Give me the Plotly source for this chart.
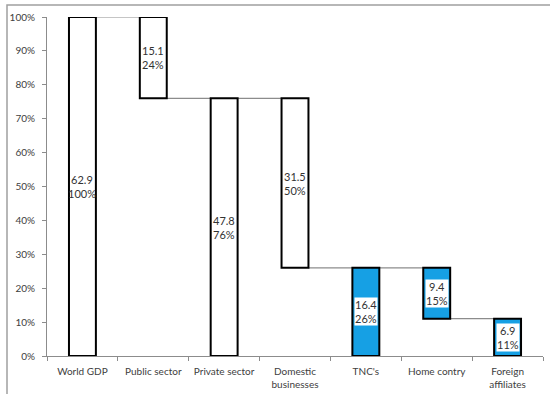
import plotly.graph_objects as go

categories = ["World GDP", "Public sector", "Private sector", "Domestic<br>businesses",
              "TNC's", "Home contry", "Foreign<br>affiliates"]
amounts = [62.9, 15.1, 47.8, 31.5, 16.4, 9.4, 6.9]
shares = [100, 24, 76, 50, 26, 15, 11]
bases = [0, 76, 0, 26, 0, 11, 0]
highlight = [False, False, False, False, True, True, True]
y_ticks = list(range(0, 101, 10))

BLUE = "#16A0E4"
BW = 0.38

fills = [BLUE if h else "white" for h in highlight]

fig = go.Figure()
fig.add_trace(go.Bar(
    x=list(range(len(categories))), y=shares, base=bases, width=BW,
    marker=dict(color=fills, line=dict(color="black", width=2)),
    hoverinfo="skip", showlegend=False,
))

shapes = []
for i in range(len(categories) - 1):
    a = {bases[i], bases[i] + shares[i]}
    b = {bases[i + 1], bases[i + 1] + shares[i + 1]}
    common = a & b
    if not common:
        continue
    lvl = max(common)
    shapes.append(dict(type="line", xref="x", yref="y",
                       x0=i + BW / 2, x1=i + 1 - BW / 2, y0=lvl, y1=lvl,
                       line=dict(color="#8c8c8c", width=1.2), layer="below"))

L, R, T, B = 47, 7, 17, 38
PW, PH = 550 - L - R, 394 - T - B
shapes.append(dict(type="rect", xref="paper", yref="paper",
                   x0=(7 - L) / PW, x1=1 + (R + 60) / PW,
                   y0=-(B + 60) / PH, y1=1 + (T - 5) / PH,
                   line=dict(color="#a0a0a0", width=1.5), fillcolor="rgba(0,0,0,0)"))

annotations = []
for i, (amt, sh, bs, h) in enumerate(zip(amounts, shares, bases, highlight)):
    annotations.append(dict(
        x=i, y=bs + sh / 2, xref="x", yref="y",
        text=f"{amt}<br>{sh}%", showarrow=False,
        font=dict(family="Lato, Carlito, sans-serif", size=11, color="#333333"),
        bgcolor="white" if h else "rgba(0,0,0,0)", borderpad=0,
    ))

fig.update_layout(
    width=550, height=394,
    margin=dict(l=L, r=R, t=T, b=B),
    paper_bgcolor="white", plot_bgcolor="white",
    shapes=shapes, annotations=annotations,
    xaxis=dict(
        type="linear", range=[-0.5, len(categories) - 0.5], automargin=False,
        tickmode="array", tickvals=list(range(len(categories))), ticktext=categories,
        showgrid=False, zeroline=False, showline=True, linecolor="#8c8c8c", linewidth=1,
        ticks="", ticklabelstandoff=6,
        tickfont=dict(family="Lato, Carlito, sans-serif", size=10, color="#404040"),
        minor=dict(tickmode="array", tickvals=[k - 0.5 for k in range(len(categories) + 1)],
                   ticks="outside", ticklen=4, tickcolor="#8c8c8c"),
    ),
    yaxis=dict(
        range=[0, 100], tickmode="array", tickvals=y_ticks, automargin=False,
        ticktext=[f"{v}%" for v in y_ticks],
        showgrid=False, zeroline=False, showline=True,
        linecolor="#8c8c8c", linewidth=1, ticks="outside", ticklen=4, tickcolor="#8c8c8c",
        ticklabelstandoff=5,
        tickfont=dict(family="Lato, Carlito, sans-serif", size=10, color="#404040"),
    ),
)

fig.write_html("out.html")
